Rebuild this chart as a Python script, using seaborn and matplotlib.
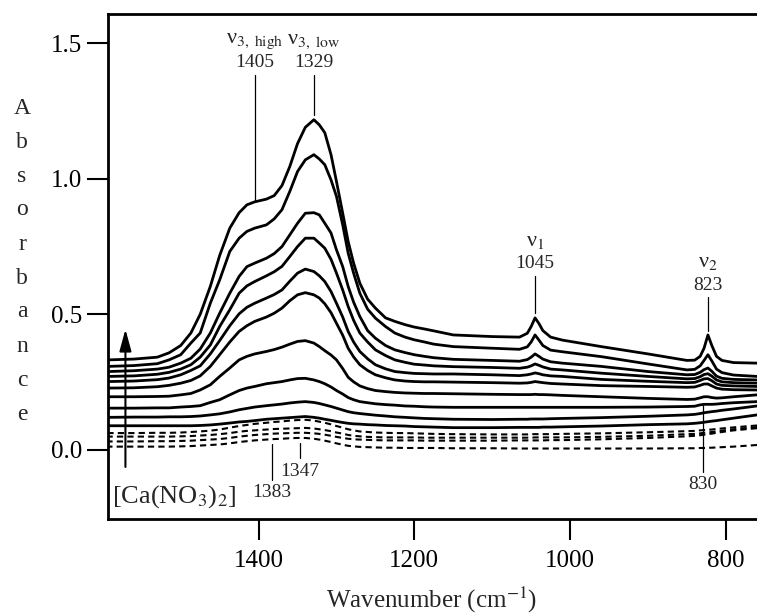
import numpy as np
import pandas as pd
import matplotlib
matplotlib.use("Agg")
import matplotlib.pyplot as plt
import seaborn as sns

# ---------------- data ----------------
wavenumber = [1593, 1560, 1530, 1500, 1475, 1450, 1425, 1405, 1390, 1370, 1350, 1340, 1329,
              1315, 1300, 1285, 1270, 1250, 1225, 1200, 1175,
              1150, 1100, 1065, 1055, 1050, 1045, 1040, 1035, 1025, 1010, 960, 900, 850,
              840, 833, 828, 823, 818, 812, 805, 790, 760]
wavenumber_extra = [1515, 1487, 1462, 1437, 1415, 1380, 1360, 1322, 1307, 1292, 1278, 1260,
                    1237, 1212, 1187]

c10 = [0.332, 0.335, 0.342, 0.385, 0.500, 0.717, 0.875, 0.915, 0.925, 0.975, 1.130, 1.190, 1.218,
       1.170, 0.990, 0.769, 0.615, 0.523, 0.474, 0.453, 0.439,
       0.424, 0.418, 0.416, 0.430, 0.455, 0.487, 0.466, 0.440, 0.416, 0.405, 0.381, 0.354, 0.330,
       0.331, 0.345, 0.375, 0.424, 0.385, 0.345, 0.330, 0.322, 0.320]
c10_extra = [0.358, 0.431, 0.603, 0.818, 0.904, 0.938, 1.045, 1.199, 1.089, 0.873, 0.689, 0.556,
             0.487, 0.462, 0.446]
c9 = [0.308, 0.311, 0.318, 0.351, 0.431, 0.627, 0.781, 0.818, 0.830, 0.886, 1.027, 1.070, 1.089,
      1.052, 0.935, 0.726, 0.578, 0.486, 0.431, 0.406, 0.390,
      0.381, 0.375, 0.371, 0.380, 0.398, 0.424, 0.405, 0.385, 0.368, 0.362, 0.344, 0.317, 0.295,
      0.297, 0.310, 0.330, 0.351, 0.328, 0.298, 0.285, 0.276, 0.271]
c9_extra = [0.332, 0.394, 0.541, 0.732, 0.806, 0.852, 0.953, 1.073, 0.996, 0.830, 0.652, 0.519,
            0.455, 0.416, 0.398]
c8 = [0.289, 0.292, 0.298, 0.320, 0.372, 0.504, 0.640, 0.689, 0.707, 0.750, 0.836, 0.873, 0.875,
      0.836, 0.738, 0.603, 0.492, 0.412, 0.369, 0.351, 0.340,
      0.334, 0.330, 0.327, 0.333, 0.342, 0.354, 0.345, 0.335, 0.325, 0.320, 0.308, 0.289, 0.277,
      0.278, 0.286, 0.296, 0.302, 0.290, 0.272, 0.264, 0.260, 0.258]
c8_extra = [0.305, 0.338, 0.431, 0.578, 0.676, 0.724, 0.793, 0.867, 0.800, 0.676, 0.545, 0.440,
            0.385, 0.359, 0.345]
c7 = [0.271, 0.273, 0.279, 0.298, 0.342, 0.455, 0.578, 0.621, 0.642, 0.677, 0.750, 0.781, 0.781,
      0.744, 0.652, 0.529, 0.431, 0.369, 0.332, 0.316, 0.310,
      0.307, 0.304, 0.301, 0.305, 0.310, 0.317, 0.312, 0.306, 0.298, 0.295, 0.283, 0.271, 0.262,
      0.263, 0.270, 0.278, 0.281, 0.272, 0.258, 0.251, 0.248, 0.246]
c7_extra = [0.286, 0.314, 0.387, 0.517, 0.605, 0.657, 0.713, 0.763, 0.703, 0.590, 0.478, 0.398,
            0.348, 0.323, 0.313]
c6 = [0.252, 0.254, 0.259, 0.277, 0.310, 0.403, 0.502, 0.541, 0.560, 0.590, 0.652, 0.667, 0.658,
      0.621, 0.541, 0.437, 0.363, 0.314, 0.289, 0.282, 0.280,
      0.280, 0.277, 0.274, 0.277, 0.280, 0.284, 0.281, 0.277, 0.273, 0.271, 0.260, 0.253, 0.248,
      0.249, 0.256, 0.262, 0.263, 0.255, 0.243, 0.238, 0.236, 0.234]
c6_extra = [0.265, 0.293, 0.354, 0.458, 0.526, 0.573, 0.622, 0.642, 0.584, 0.490, 0.398, 0.336,
            0.299, 0.285, 0.281]
c5 = [0.228, 0.229, 0.233, 0.246, 0.273, 0.351, 0.437, 0.474, 0.490, 0.523, 0.572, 0.580, 0.572,
      0.539, 0.467, 0.375, 0.314, 0.277, 0.258, 0.252, 0.251,
      0.250, 0.248, 0.246, 0.247, 0.249, 0.252, 0.250, 0.248, 0.245, 0.243, 0.237, 0.234, 0.231,
      0.232, 0.238, 0.243, 0.243, 0.236, 0.228, 0.224, 0.222, 0.221]
c5_extra = [0.238, 0.256, 0.308, 0.398, 0.458, 0.504, 0.550, 0.560, 0.506, 0.423, 0.343, 0.293,
            0.266, 0.254, 0.251]
c4 = [0.196, 0.196, 0.197, 0.203, 0.221, 0.271, 0.332, 0.354, 0.363, 0.379, 0.400, 0.403, 0.394,
      0.366, 0.332, 0.268, 0.236, 0.219, 0.212, 0.209, 0.208,
      0.207, 0.205, 0.204, 0.204, 0.204, 0.205, 0.204, 0.204, 0.203, 0.201, 0.196, 0.190, 0.186,
      0.187, 0.192, 0.196, 0.196, 0.193, 0.191, 0.192, 0.196, 0.203]
c4_extra = [0.198, 0.208, 0.240, 0.302, 0.345, 0.370, 0.390, 0.381, 0.350, 0.300, 0.251, 0.226,
            0.215, 0.210, 0.208]
c3 = [0.154, 0.154, 0.155, 0.158, 0.163, 0.185, 0.219, 0.234, 0.244, 0.252, 0.263, 0.264, 0.258,
      0.244, 0.219, 0.193, 0.178, 0.170, 0.165, 0.161, 0.158,
      0.157, 0.157, 0.157, 0.157, 0.157, 0.157, 0.157, 0.157, 0.157, 0.157, 0.157, 0.158, 0.160,
      0.161, 0.166, 0.168, 0.168, 0.168, 0.169, 0.171, 0.174, 0.178]
c3_extra = [0.155, 0.160, 0.175, 0.203, 0.228, 0.248, 0.258, 0.252, 0.232, 0.206, 0.185, 0.174,
            0.167, 0.162, 0.159]
c2 = [0.120, 0.121, 0.121, 0.122, 0.125, 0.133, 0.148, 0.158, 0.163, 0.169, 0.176, 0.178, 0.175,
      0.166, 0.154, 0.141, 0.134, 0.128, 0.122, 0.118, 0.115,
      0.113, 0.112, 0.113, 0.113, 0.114, 0.114, 0.114, 0.114, 0.115, 0.116, 0.119, 0.124, 0.129,
      0.131, 0.134, 0.137, 0.139, 0.141, 0.143, 0.146, 0.151, 0.162]
c2_extra = [0.122, 0.123, 0.129, 0.140, 0.153, 0.166, 0.173, 0.171, 0.160, 0.147, 0.137, 0.131,
            0.125, 0.120, 0.116]
c1 = [0.089, 0.089, 0.089, 0.089, 0.090, 0.095, 0.103, 0.108, 0.113, 0.117, 0.121, 0.123, 0.120,
      0.113, 0.105, 0.098, 0.095, 0.092, 0.089, 0.086, 0.084,
      0.082, 0.082, 0.083, 0.083, 0.083, 0.083, 0.083, 0.084, 0.084, 0.085, 0.088, 0.093, 0.096,
      0.098, 0.100, 0.102, 0.104, 0.106, 0.108, 0.111, 0.117, 0.129]
c1_extra = [0.089, 0.089, 0.092, 0.099, 0.105, 0.115, 0.119, 0.117, 0.109, 0.101, 0.096, 0.093,
            0.090, 0.088, 0.085]

d4 = [0.062, 0.062, 0.063, 0.064, 0.068, 0.075, 0.088, 0.096, 0.100, 0.105, 0.110, 0.111, 0.108,
      0.100, 0.088, 0.076, 0.068, 0.064, 0.062, 0.061, 0.059,
      0.058, 0.057, 0.057, 0.057, 0.058, 0.058, 0.058, 0.058, 0.058, 0.059, 0.061, 0.065, 0.069,
      0.070, 0.072, 0.073, 0.074, 0.075, 0.077, 0.079, 0.083, 0.090]
d4_extra = [0.063, 0.066, 0.071, 0.082, 0.092, 0.103, 0.108, 0.104, 0.094, 0.082, 0.072, 0.066,
            0.063, 0.062, 0.060]
d3 = [0.049, 0.049, 0.049, 0.050, 0.053, 0.058, 0.067, 0.072, 0.075, 0.078, 0.080, 0.081, 0.079,
      0.073, 0.064, 0.055, 0.050, 0.047, 0.046, 0.046, 0.045,
      0.045, 0.045, 0.045, 0.045, 0.045, 0.046, 0.046, 0.046, 0.046, 0.046, 0.048, 0.052, 0.058,
      0.059, 0.061, 0.063, 0.064, 0.066, 0.068, 0.071, 0.076, 0.084]
d3_extra = [0.049, 0.051, 0.055, 0.062, 0.070, 0.077, 0.079, 0.076, 0.069, 0.060, 0.052, 0.048,
            0.046, 0.046, 0.045]
d2 = [0.031, 0.031, 0.032, 0.033, 0.036, 0.040, 0.049, 0.055, 0.058, 0.061, 0.063, 0.063, 0.061,
      0.056, 0.048, 0.041, 0.038, 0.036, 0.035, 0.035, 0.034,
      0.034, 0.034, 0.035, 0.035, 0.035, 0.035, 0.035, 0.035, 0.036, 0.036, 0.039, 0.044, 0.050,
      0.052, 0.054, 0.056, 0.058, 0.060, 0.063, 0.066, 0.072, 0.080]
d2_extra = [0.032, 0.034, 0.038, 0.044, 0.052, 0.060, 0.062, 0.059, 0.052, 0.044, 0.039, 0.037,
            0.035, 0.035, 0.034]
d1 = [0.012, 0.012, 0.012, 0.013, 0.016, 0.020, 0.029, 0.035, 0.038, 0.041, 0.044, 0.044, 0.041,
      0.034, 0.024, 0.015, 0.011, 0.009, 0.008, 0.007, 0.007,
      0.006, 0.006, 0.005, 0.005, 0.005, 0.005, 0.005, 0.005, 0.005, 0.005, 0.005, 0.005, 0.006,
      0.006, 0.007, 0.007, 0.008, 0.008, 0.009, 0.010, 0.012, 0.018]
d1_extra = [0.012, 0.014, 0.018, 0.024, 0.032, 0.040, 0.043, 0.038, 0.029, 0.019, 0.013, 0.010,
            0.008, 0.007, 0.007]

solid_curves = [(c1, c1_extra), (c2, c2_extra), (c3, c3_extra), (c4, c4_extra),
                (c5, c5_extra), (c6, c6_extra), (c7, c7_extra), (c8, c8_extra),
                (c9, c9_extra), (c10, c10_extra)]
dashed_curves = [(d1, d1_extra), (d2, d2_extra), (d3, d3_extra), (d4, d4_extra)]

x_ticks = [1400, 1200, 1000, 800]
y_ticks = [0.0, 0.5, 1.0, 1.5]

# ---------------- figure ----------------
sns.set_theme(style="ticks")
plt.rcParams['font.family'] = ['Liberation Serif', 'DejaVu Serif']
plt.rcParams['mathtext.fontset'] = 'stix'

W, H = 757, 616
fig = plt.figure(figsize=(W / 100, H / 100), dpi=100)
fig.patch.set_facecolor('white')
L, R, T, B = 108.3, 757, 14, 519
ax = fig.add_axes([L / W, 1 - B / H, (R - L) / W, (B - T) / H])
ax.set_facecolor('white')

rows = []
all_w = wavenumber + wavenumber_extra
for kind, group in (("s", solid_curves), ("d", dashed_curves)):
    for i, (main, extra) in enumerate(group):
        for w, v in zip(all_w, main + extra):
            rows.append(dict(wavenumber=w, absorbance=v, curve=f"{kind}{i}"))
df = pd.DataFrame(rows)

for name, sub in df.groupby("curve", sort=False):
    dashed = name.startswith("d")
    sns.lineplot(data=sub, x="wavenumber", y="absorbance", ax=ax, color="black",
                 linewidth=1.5 if dashed else 2.0, estimator=None, legend=False)
    line = ax.lines[-1]
    if dashed:
        line.set_linestyle((0, (3, 2)))
    line.set_solid_joinstyle('round')

ax.set_xlim(1593, 760)
ax.set_ylim(-0.255, 1.608)
ax.set_xticks(x_ticks)
ax.set_xticklabels([str(t) for t in x_ticks])
ax.set_yticks(y_ticks)
ax.set_yticklabels([f"{t:.1f}" for t in y_ticks])
ax.tick_params(axis='both', direction='out', length=15, width=1.5, color='black',
               labelsize=18, labelcolor='black')
ax.tick_params(axis='x', pad=7)
ax.tick_params(axis='y', pad=4)
for s in ['left', 'bottom', 'top']:
    ax.spines[s].set_linewidth(2)
    ax.spines[s].set_color('black')
ax.spines['right'].set_visible(False)
ax.set_xlabel("")
ax.set_ylabel("")

# x label
fig.text(432 / W, 1 - 600 / H, "Wavenumber (cm$^{-1}$)", ha='center', va='center', fontsize=18)
# y label as stacked letters
for k, ch in enumerate("Absorbance"):
    fig.text(22 / W, 1 - (108 + 34 * k) / H, ch, ha='center', va='center', fontsize=17)

# annotations
fs = 14
def vline(x, y0, y1):
    ax.plot([x, x], [y0, y1], color='black', linewidth=0.9)

ax.text(1405, 1.506, r"ν$_{3,\ \mathrm{high}}$", ha='center', va='center', fontsize=16)
ax.text(1405, 1.428, "1405", ha='center', va='center', fontsize=fs)
vline(1405, 1.384, 0.922)
ax.text(1329, 1.506, r"ν$_{3,\ \mathrm{low}}$", ha='center', va='center', fontsize=16)
ax.text(1329, 1.428, "1329", ha='center', va='center', fontsize=fs)
vline(1329, 1.384, 1.236)
ax.text(1045, 0.768, r"ν$_{1}$", ha='center', va='center', fontsize=16)
ax.text(1045, 0.686, "1045", ha='center', va='center', fontsize=fs)
vline(1045, 0.642, 0.506)
ax.text(823, 0.690, r"ν$_{2}$", ha='center', va='center', fontsize=16)
ax.text(823, 0.605, "823", ha='center', va='center', fontsize=fs)
vline(823, 0.565, 0.439)
vline(829, 0.166, -0.081)
ax.text(829, -0.129, "830", ha='center', va='center', fontsize=fs)
vline(1383, 0.022, -0.111)
ax.text(1383, -0.159, "1383", ha='center', va='center', fontsize=fs)
vline(1347, 0.026, -0.030)
ax.text(1347, -0.081, "1347", ha='center', va='center', fontsize=fs)

ax.annotate("", xy=(1571, 0.445), xytext=(1571, -0.063),
            arrowprops=dict(arrowstyle='-|>,head_length=1.1,head_width=0.3', color='black',
                            linewidth=1.5, shrinkA=0, shrinkB=0))
ax.text(1588, -0.173, r"[Ca(NO$_3$)$_2$]", ha='left', va='center', fontsize=19)

fig.savefig("out.png", dpi=100, facecolor='white')
